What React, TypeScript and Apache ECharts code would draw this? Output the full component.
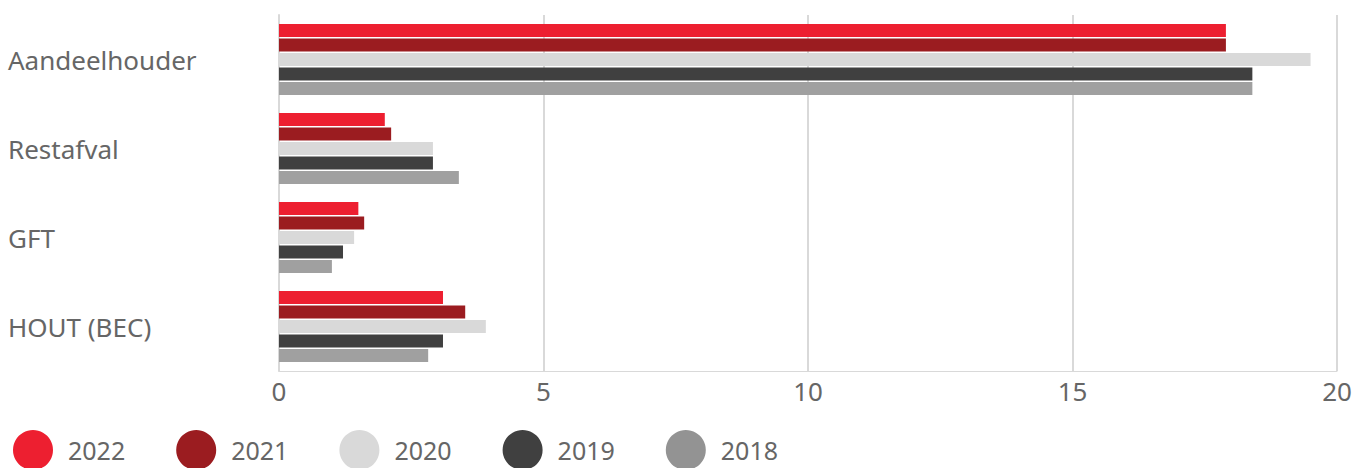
import React, { useEffect, useRef } from "react";
import * as echarts from "echarts";

const categories = ["Aandeelhouder", "Restafval", "GFT", "HOUT (BEC)"];
const years = ["2022", "2021", "2020", "2019", "2018"];
const values2022 = [17.9, 2.0, 1.5, 3.1];
const values2021 = [17.9, 2.12, 1.61, 3.52];
const values2020 = [19.5, 2.91, 1.42, 3.91];
const values2019 = [18.4, 2.91, 1.21, 3.1];
const values2018 = [18.4, 3.4, 1.0, 2.82];
const xTicks = [0, 5, 10, 15, 20];

const barColors = ["#ED1F30", "#9B1C20", "#D9D9D9", "#404040", "#A0A0A0"];
const legendColors = ["#ED1F30", "#9B1C20", "#D9D9D9", "#404040", "#939393"];

export default function App() {
  const ref = useRef<HTMLDivElement>(null);
  useEffect(() => {
    if (!ref.current) return;
    const chart = echarts.init(ref.current, undefined, { renderer: "svg" });
    const allValues = [values2022, values2021, values2020, values2019, values2018];
    const font = "Noto Sans";
    chart.setOption({
      animation: false,
      grid: { left: 279, right: 31, top: 15, bottom: 97, containLabel: false },
      legend: {
        left: 8,
        top: 425,
        icon: "circle",
        itemWidth: 40,
        itemHeight: 40,
        itemGap: 51,
        textStyle: { fontFamily: font, fontSize: 25, lineHeight: 24, color: "#666666", padding: [0, 0, 0, 10] },
        data: years.map((y, i) => ({ name: y, itemStyle: { color: legendColors[i] } })),
      },
      xAxis: {
        type: "value",
        min: xTicks[0],
        max: xTicks[xTicks.length - 1],
        interval: 5,
        axisLine: { show: true, lineStyle: { color: "#D9D9D9", width: 1 } },
        axisTick: { show: false },
        splitLine: { show: true, lineStyle: { color: "#D9D9D9", width: 2 } },
        axisLabel: { fontFamily: font, fontSize: 26, color: "#666666", margin: 7 },
      },
      yAxis: {
        type: "category",
        data: categories,
        inverse: true,
        axisLine: { show: true, lineStyle: { color: "#D9D9D9", width: 2 } },
        axisTick: { show: false },
        axisLabel: { fontFamily: font, fontSize: 26, color: "#666666", align: "left", margin: 271, padding: [6, 0, 0, 0] },
      },
      series: years.map((y, i) => ({
        name: y,
        type: "bar",
        data: allValues[i],
        itemStyle: { color: barColors[i] },
        barCategoryGap: "20%",
        barGap: "10%",
      })),
    });
    return () => chart.dispose();
  }, []);
  return <div ref={ref} style={{ width: 1368, height: 468, position: "absolute", left: 0, top: 0 }} />;
}
